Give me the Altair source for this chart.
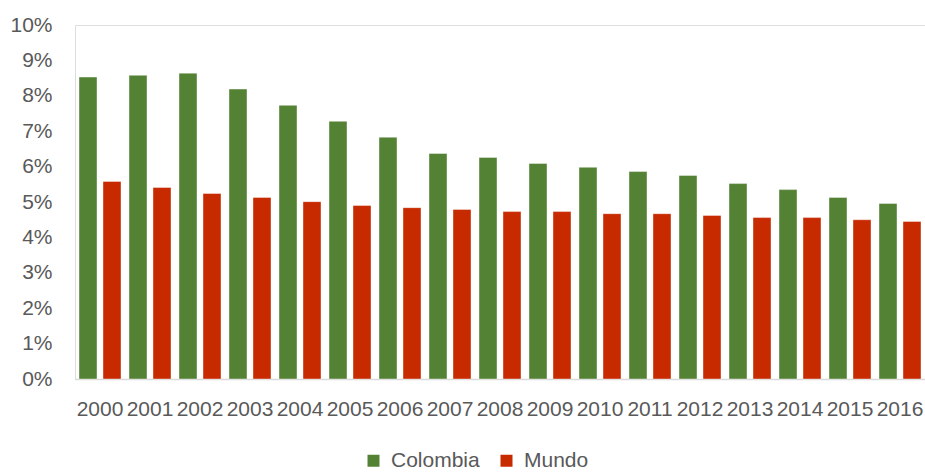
import altair as alt
import pandas as pd

years = [str(y) for y in range(2000, 2017)]
colombia = [8.53, 8.58, 8.64, 8.19, 7.73, 7.28, 6.83, 6.37, 6.26, 6.09, 5.98, 5.86, 5.75, 5.52, 5.35, 5.13, 4.96]
mundo = [5.58, 5.41, 5.24, 5.13, 5.01, 4.90, 4.84, 4.79, 4.73, 4.73, 4.67, 4.67, 4.62, 4.56, 4.56, 4.50, 4.45]
series = ["Colombia", "Mundo"]
colors = ["#548235", "#C82A00"]

rows = []
for i, y in enumerate(years):
    rows.append({"Año": y, "Serie": series[0], "Valor": colombia[i] / 100})
    rows.append({"Año": y, "Serie": series[1], "Valor": mundo[i] / 100})
df = pd.DataFrame(rows)

FONT = "Liberation Sans"
TXT = "#595959"

chart = alt.Chart(df).mark_bar(
    strokeWidth=0.8, strokeOpacity=0.5, stroke="#ffffff"
).encode(
    x=alt.X(
        "Año:N",
        sort=years,
        title=None,
        scale=alt.Scale(paddingInner=0.16, paddingOuter=0.08),
        axis=alt.Axis(
            labelAngle=0,
            labelFont=FONT,
            labelFontSize=21,
            labelColor=TXT,
            labelPadding=30,
            labelBaseline="middle",
            labelOverlap=False,
            labelBound=False,
            ticks=False,
            tickSize=0,
            domainColor="#d9d9d9",
            domainWidth=1.5,
            grid=False,
        ),
    ),
    xOffset=alt.XOffset(
        "Serie:N",
        sort=series,
        scale=alt.Scale(paddingInner=0.25, paddingOuter=0),
    ),
    y=alt.Y(
        "Valor:Q",
        title=None,
        scale=alt.Scale(domain=[0, 0.10], nice=False),
        axis=alt.Axis(
            values=[i / 100 for i in range(0, 11)],
            format=".0%",
            labelFont=FONT,
            labelFontSize=21,
            labelColor=TXT,
            labelPadding=23,
            ticks=False,
            tickSize=0,
            domain=False,
            grid=False,
        ),
    ),
    color=alt.Color(
        "Serie:N",
        sort=series,
        scale=alt.Scale(domain=series, range=colors),
        legend=alt.Legend(
            title=None,
            orient="none",
            direction="horizontal",
            legendX=288,
            legendY=425,
            symbolType="square",
            symbolSize=144,
            symbolStrokeWidth=0,
            labelFont=FONT,
            labelFontSize=21,
            labelColor=TXT,
            labelOffset=7,
            columnPadding=16,
        ),
    ),
).properties(
    width=850,
    height=354,
    autosize=alt.AutoSizeParams(type="none"),
    padding={"left": 75, "top": 25, "right": 0, "bottom": 94},
).configure_view(stroke=None).configure(background="white")

chart.save("out.html", embed_options={"renderer": "svg", "actions": False})
